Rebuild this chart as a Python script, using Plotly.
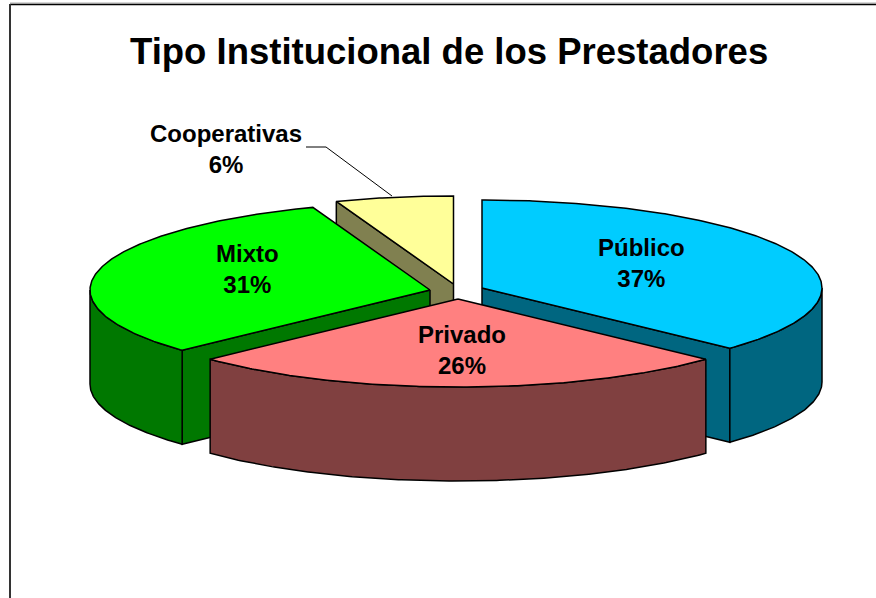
import numpy as np
import plotly.graph_objects as go

# --- data ---
categories = ["Público", "Privado", "Mixto", "Cooperativas"]
shares = [37.0, 26.0, 31.4, 5.6]
title_text = "Tipo Institucional de los Prestadores"

# --- styles ---
top_colors = ["#00CCFF", "#FF8080", "#00FF00", "#FFFF99"]
wall_colors = ["#006680", "#804040", "#007800", "#808050"]

# --- drawing geometry (pixel space of the 3-D look) ---
W, H = 876, 598
RX, RY, DEPTH = 340, 88, 94
apex_x = [482, 458, 430, 453.5]
apex_y = [288, 299, 290, 284]
label_x = [641, 462, 247, 226]
label_y = [263, 350, 269, 149]
draw_order = [3, 2, 0, 1]

# slice angles, clockwise from 12 o'clock, from the shares
edges = np.concatenate([[0], np.cumsum(shares)]) * 3.6


def arc(i, a0, a1, dy=0.0):
    t = np.radians(np.linspace(a0, a1, max(2, int(abs(a1 - a0)) * 2 + 1)))
    return apex_x[i] + RX * np.sin(t), apex_y[i] - RY * np.cos(t) + dy


fig = go.Figure()


def poly(x, y, color, name):
    fig.add_trace(go.Scatter(
        x=np.append(x, x[0]), y=np.append(y, y[0]), mode="lines", fill="toself",
        fillcolor=color, line=dict(color="black", width=1.5), name=name,
        hoverinfo="skip", showlegend=False,
    ))


for i in draw_order:
    a0, a1 = edges[i], edges[i + 1]
    name = categories[i]
    ax, ay = apex_x[i], apex_y[i]
    # cut faces that look towards the viewer
    for a, is_start in ((a0, True), (a1, False)):
        ang = a % 360
        ex, ey = arc(i, a, a)
        ex, ey = ex[0], ey[0]
        faces_viewer = (is_start and ang > 180) or (not is_start and 0 < ang < 180)
        if faces_viewer:
            poly(np.array([ax, ex, ex, ax]),
                 np.array([ay, ey, ey + DEPTH, ay + DEPTH]), wall_colors[i], name)
    # outer wall (front half of the rim only)
    w0, w1 = max(a0, 90), min(a1, 270)
    if w1 > w0:
        tx, ty = arc(i, w0, w1)
        bx, by = arc(i, w1, w0, DEPTH)
        poly(np.concatenate([tx, bx]), np.concatenate([ty, by]), wall_colors[i], name)
    # top face
    tx, ty = arc(i, a0, a1)
    poly(np.concatenate([[ax], tx]), np.concatenate([[ay], ty]), top_colors[i], name)

# leader line of the small slice
fig.add_trace(go.Scatter(
    x=[306, 326, 392], y=[147, 147, 196], mode="lines",
    line=dict(color="black", width=1), hoverinfo="skip", showlegend=False,
))

for i, cat in enumerate(categories):
    fig.add_annotation(
        x=label_x[i], y=label_y[i], text=f"{cat}<br>{round(shares[i])}%",
        showarrow=False, align="center",
        font=dict(family="Liberation Sans", size=24, color="black", weight="bold"),
    )

fig.add_annotation(
    x=449, y=51, text=title_text, showarrow=False,
    font=dict(family="Liberation Sans", size=36.5, color="black", weight="bold"),
)

# chart frame
fig.add_shape(type="line", x0=10, x1=W, y0=3, y1=3, line=dict(color="#aaaaaa", width=1), layer="below")
fig.add_shape(type="line", x0=10, x1=W, y0=4.5, y1=4.5, line=dict(color="black", width=1.5), layer="below")
fig.add_shape(type="line", x0=10, x1=10, y0=4, y1=H, line=dict(color="#333333", width=2), layer="below")

fig.update_layout(
    width=W, height=H, autosize=False,
    margin=dict(l=0, r=0, t=0, b=0),
    paper_bgcolor="white", plot_bgcolor="white",
    xaxis=dict(range=[0, W], visible=False, fixedrange=True),
    yaxis=dict(range=[H, 0], visible=False, fixedrange=True),
)
fig.write_html(
    "out.html", config=dict(displayModeBar=False),
    post_script="document.body.style.margin='0';document.documentElement.style.overflow='hidden';",
)
